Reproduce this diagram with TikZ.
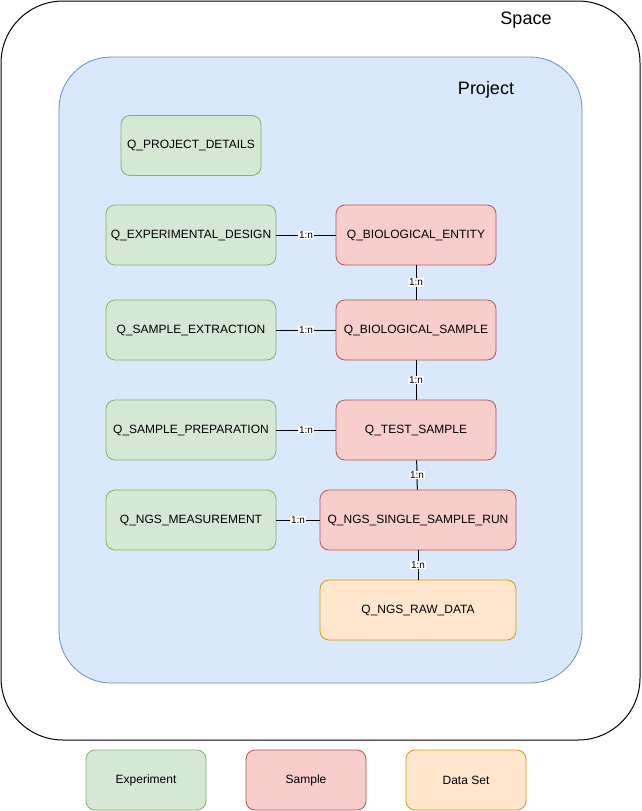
\documentclass[tikz,border=0pt]{standalone}
\usepackage{fontspec}
\setmainfont{Liberation Sans}
\usepackage{tikz}
\usetikzlibrary {positioning}

\definecolor{expfill}{HTML}{D5E8D4}
\definecolor{expline}{HTML}{82B366}
\definecolor{smpfill}{HTML}{F8CECC}
\definecolor{smpline}{HTML}{B85450}
\definecolor{dsfill}{HTML}{FFE6CC}
\definecolor{dsline}{HTML}{D79B00}
\definecolor{prjfill}{HTML}{DAE8FC}
\definecolor{prjline}{HTML}{6C8EBF}

\tikzset{
  entity/.style={shape=rectangle,rounded corners=9pt,line width=0.8pt,inner sep=0pt,
    minimum height=60pt,font=\fontsize{12}{14}\selectfont},
  exp/.style={entity,fill=expfill,draw=expline,minimum width=170pt},
  smp/.style={entity,fill=smpfill,draw=smpline,minimum width=160pt},
  ds/.style={entity,fill=dsfill,draw=dsline,minimum width=196pt},
  card/.style={fill=white,inner sep=0.8pt,font=\fontsize{10}{11}\selectfont}
}

\begin{document}
\begin{tikzpicture}[x=1pt,y=-1pt]
\useasboundingbox (0,0) rectangle (641,811);

\draw[black,line width=1pt,rounded corners=62pt] (1,1) rectangle (640,740);
\node[font=\fontsize{18}{20}\selectfont] (space) at (526,20) {Space};
\draw[prjline,fill=prjfill,line width=0.8pt,rounded corners=52pt] (59,57) rectangle (582,683);
\node[font=\fontsize{18}{20}\selectfont] (project) at (486,90) {Project};

\node[exp,minimum width=140pt] (details) at (191,145.5) {Q\_PROJECT\_DETAILS};
\node[exp] (design) at (191,235) {Q\_EXPERIMENTAL\_DESIGN};
\node[smp] (entity) at (416,235) {Q\_BIOLOGICAL\_ENTITY};
\node[exp] (extract) at (191,330) {Q\_SAMPLE\_EXTRACTION};
\node[smp] (biosample) at (416,330) {Q\_BIOLOGICAL\_SAMPLE};
\node[exp] (prep) at (191,430) {Q\_SAMPLE\_PREPARATION};
\node[smp] (test) at (416,430) {Q\_TEST\_SAMPLE};
\node[exp] (measure) at (191,520) {Q\_NGS\_MEASUREMENT};
\node[smp,minimum width=196pt] (run) at (418,520) {Q\_NGS\_SINGLE\_SAMPLE\_RUN};
\node[ds] (raw) at (418,610) {Q\_NGS\_RAW\_DATA};

% legend
\node[exp,minimum width=120pt] (legexp) at (146,780) {Experiment};
\node[smp,minimum width=120pt] (legsmp) at (306,780) {Sample};
\node[ds,minimum width=120pt] (legds) at (466,780) {Data Set};

\path [line width=1pt] (design) edge node[card] {1:n} (entity);
\path [line width=1pt] (extract) edge node[card] {1:n} (biosample);
\path [line width=1pt] (prep) edge node[card] {1:n} (test);
\path [line width=1pt] (measure) edge node[card] {1:n} (run);
\path [line width=1pt] (entity) edge node[card] {1:n} (biosample);
\path [line width=1pt] (biosample) edge node[card] {1:n} (test);
\path [line width=1pt] (test) edge node[card] {1:n} (run);
\path [line width=1pt] (run) edge node[card] {1:n} (raw);

\end{tikzpicture}
\end{document}
